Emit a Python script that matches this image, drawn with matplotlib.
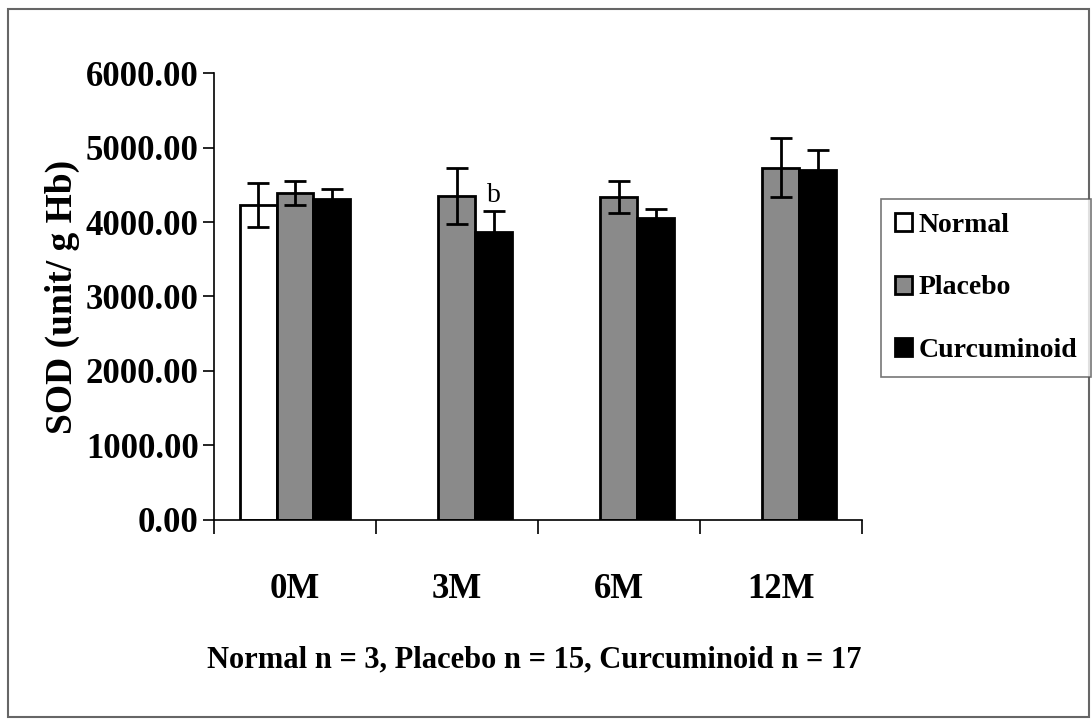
import matplotlib
matplotlib.use("Agg")
import matplotlib.pyplot as plt
import numpy as np
from matplotlib.patches import Rectangle

# SOD activity by visit month
months = ["0M", "3M", "6M", "12M"]
normal_mean = [4230, np.nan, np.nan, np.nan]
normal_sd = [295, np.nan, np.nan, np.nan]
placebo_mean = [4385, 4350, 4330, 4730]
placebo_sd = [160, 370, 215, 400]
curcum_mean = [4315, 3860, 4055, 4705]
curcum_sd = [130, 285, 125, 260]
curcum_marks = ["", "b", "", ""]

serif = "Liberation Serif"
plt.rcParams["font.family"] = serif
plt.rcParams["font.weight"] = "bold"
plt.rcParams["axes.labelweight"] = "bold"

fig = plt.figure(figsize=(10.92, 7.24), dpi=100)
ax = fig.add_axes([0.196, 0.282, 0.593, 0.617])

x = np.arange(len(months))
w = 0.228
err_kw = dict(ecolor="black", elinewidth=2, capsize=8, capthick=2)

ax.bar(x - w, normal_mean, w, yerr=normal_sd, color="white",
       edgecolor="black", linewidth=2, error_kw=err_kw, label="Normal")
ax.bar(x, placebo_mean, w, yerr=placebo_sd, color="#8a8a8a",
       edgecolor="black", linewidth=2, error_kw=err_kw, label="Placebo")
ax.bar(x + w, curcum_mean, w, yerr=curcum_sd, color="black",
       edgecolor="black", linewidth=2, error_kw=err_kw, label="Curcuminoid")

# significance letters over the curcuminoid bars
for i, m in enumerate(curcum_marks):
    if m:
        ax.text(x[i] + w, curcum_mean[i] + curcum_sd[i] + 40, m,
                ha="center", va="bottom", fontsize=20, fontweight="normal")

ax.set_xlim(-0.5, 3.5)
ax.set_ylim(0, 6000)
ax.set_yticks(np.arange(0, 6001, 1000))
ax.set_yticklabels([f"{v:.2f}" for v in np.arange(0, 6001, 1000)])
ax.set_xticks(np.arange(-0.5, 3.6, 1))
ax.set_xticklabels([])
ax.set_xticks(x, minor=True)
ax.set_xticklabels(months, minor=True)
ax.tick_params(axis="x", which="minor", length=0, pad=38, labelsize=25)
ax.tick_params(axis="x", which="major", direction="out", length=10, width=1.2)
ax.tick_params(axis="y", direction="out", length=8, width=1.2, labelsize=25, pad=3)
for side in ["top", "right"]:
    ax.spines[side].set_visible(False)
for side in ["left", "bottom"]:
    ax.spines[side].set_linewidth(1.2)

ax.set_ylabel("SOD (unit/ g Hb)", fontsize=27, labelpad=4)
fig.text(0.489, 0.088, "Normal n = 3, Placebo n = 15, Curcuminoid n = 17",
         ha="center", va="center", fontsize=22)

leg = fig.legend(loc="upper left", bbox_to_anchor=(0.807, 0.725),
                 fontsize=20, frameon=True, fancybox=False, edgecolor="#555555",
                 handlelength=0.6, handleheight=0.6, handletextpad=0.25,
                 labelspacing=1.35, borderpad=0.5, borderaxespad=0)
leg.get_frame().set_linewidth(1.2)

# outer frame round the whole figure
fig.patches.append(Rectangle((0.007, 0.01), 0.99, 0.978, transform=fig.transFigure,
                             fill=False, edgecolor="#666666", linewidth=1.5))

fig.savefig("out.png", dpi=100)
